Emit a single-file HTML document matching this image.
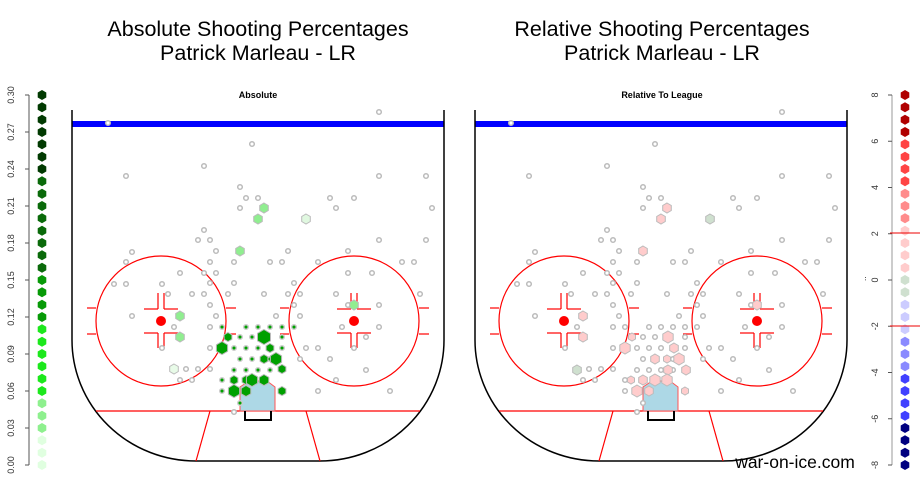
<!DOCTYPE html>
<html><head><meta charset="utf-8"><style>
body{margin:0;background:#fff;width:920px;height:480px;overflow:hidden;font-family:"Liberation Sans",sans-serif}
</style></head><body>
<svg id="s" width="920" height="480" xmlns="http://www.w3.org/2000/svg" font-family="Liberation Sans, sans-serif">
<rect width="920" height="480" fill="#fff"/>
<text x="258" y="36" font-size="21.5" text-anchor="middle">Absolute Shooting Percentages</text>
<text x="258" y="60" font-size="21.5" text-anchor="middle">Patrick Marleau - LR</text>
<text x="662" y="36" font-size="21.5" text-anchor="middle">Relative Shooting Percentages</text>
<text x="662" y="60" font-size="21.5" text-anchor="middle">Patrick Marleau - LR</text>
<text x="258" y="98" font-size="9" font-weight="bold" text-anchor="middle">Absolute</text>
<text x="662" y="98" font-size="9" font-weight="bold" text-anchor="middle">Relative To League</text>
<text x="795" y="468" font-size="17.5" text-anchor="middle">war-on-ice.com</text>
<text x="866" y="281" font-size="8" transform="rotate(-90 866 281)">..</text>
<g id="g"></g>
</svg>
<script>
var NS="http://www.w3.org/2000/svg",g=document.getElementById("g");
function el(t,a){var e=document.createElementNS(NS,t);for(var k in a)e.setAttribute(k,a[k]);g.appendChild(e);return e;}
function hex(x,y,r,f,s){var p=[];for(var i=0;i<6;i++){var a=Math.PI/3*i-Math.PI/2;p.push((x+r*Math.cos(a)).toFixed(1)+","+(y+r*Math.sin(a)).toFixed(1));}
el("polygon",{points:p.join(" "),fill:f,stroke:s||"none","stroke-width":1});}
function rink(o){
el("rect",{x:72+o,y:121,width:372,height:6,fill:"#0000ff"});
el("path",{d:"M"+(72+o)+",110 L"+(72+o)+",340 A124,121 0 0 0 "+(196+o)+",461 L"+(320+o)+",461 A124,121 0 0 0 "+(444+o)+",340 L"+(444+o)+",110",fill:"none",stroke:"#000","stroke-width":1.5});
el("line",{x1:96+o,y1:411,x2:420+o,y2:411,stroke:"#f00","stroke-width":1.2});
el("line",{x1:210+o,y1:411,x2:196+o,y2:461,stroke:"#f00","stroke-width":1.2});
el("line",{x1:306+o,y1:411,x2:320+o,y2:461,stroke:"#f00","stroke-width":1.2});
[161,354].forEach(function(c){c+=o;
el("circle",{cx:c,cy:321,r:65,fill:"none",stroke:"#f00","stroke-width":1.2});
var L=function(a,b,c2,d){el("line",{x1:a,y1:b,x2:c2,y2:d,stroke:"#f00","stroke-width":1.2});};
L(c-74,308,c-65,308);L(c-74,334,c-65,334);L(c+65,308,c+75,308);L(c+65,334,c+75,334);
L(c-3,293,c-3,309);L(c+3,293,c+3,309);L(c-3,333,c-3,348);L(c+3,333,c+3,348);
L(c-17,309,c-3,309);L(c+3,309,c+17,309);L(c-17,333,c-3,333);L(c+3,333,c+17,333);
el("circle",{cx:c,cy:321,r:5,fill:"#f00"});});
el("polygon",{points:(240+o)+",411 "+(240+o)+",387 "+(249+o)+",381 "+(267+o)+",381 "+(275+o)+",387 "+(275+o)+",411",fill:"#add8e6",stroke:"#f55","stroke-width":1});
el("path",{d:"M"+(245+o)+",411 L"+(245+o)+",420 L"+(271+o)+",420 L"+(271+o)+",411",fill:"none",stroke:"#000","stroke-width":2});
}
rink(0);rink(403);
var gray=[[379,112],[252,144],[204,166],[379,176],[426,176],[432,208],[240,187],[246,198],[258,198],[330,198],[354,198],[240,208],[336,208],[204,230],[210,240],[379,240],[426,240],[216,251],[288,251],[348,251],[234,262],[270,262],[282,262],[318,262],[402,262],[414,262],[348,273],[372,273],[210,283],[234,283],[294,283],[264,294],[288,294],[300,294],[336,294],[420,294],[210,305],[379,305],[276,316],[300,316],[342,327],[379,327],[366,337],[354,348],[306,348],[318,348],[300,359],[366,370],[336,380],[318,391],[390,391],[234,412],
[108,123],[126,176],[132,252],[126,262],[114,284],[126,284],[162,284],[180,273],[168,294],[192,294],[204,294],[228,294],[132,316],[216,316],[174,327],[210,327],[162,348],[210,348],[186,369],[198,369],[210,369],[180,380],[192,380],[210,262],[198,240],[204,273],[216,273],[294,305],[330,359],[348,305]];
var gsm=[[222,327],[246,327],[258,327],[270,327],[282,327],[294,327],[240,337],[252,337],[282,348],[234,348],[246,348],[258,348],[240,359],[252,359],[234,370],[246,370],[258,370],[270,370],[222,380],[222,391],[240,403],[270,359],[282,337]];
gray.forEach(function(p){el("circle",{cx:p[0],cy:p[1],r:2.3,fill:"#fff",stroke:"#bbb","stroke-width":1.5});
el("circle",{cx:p[0]+403,cy:p[1],r:2.3,fill:"#fff",stroke:"#bbb","stroke-width":1.5});});
gsm.forEach(function(p){el("circle",{cx:p[0],cy:p[1],r:2.3,fill:"#00a000",stroke:"#ccc","stroke-width":1.5});
el("circle",{cx:p[0]+403,cy:p[1],r:2.3,fill:"#fff",stroke:"#bbb","stroke-width":1.5});});
var dg=[[264,337,7],[222,348,6],[228,337,4],[270,348,4],[276,359,6],[264,359,4],[282,369,4],[234,380,4],[246,380,4],[252,380,6],[264,380,5],[234,391,6],[246,391,5],[282,391,4]];
dg.forEach(function(h){hex(h[0],h[1],h[2]+0.5,"#00a000","#bbb");});
[[264,208,"#90ee90"],[258,219,"#90ee90"],[306,219,"#e0f8e0"],[240,251,"#90ee90"],[180,316,"#90ee90"],[180,337,"#90ee90"],[174,369,"#e8fbe8"],[354,305,"#90ee90"]].forEach(function(h){hex(h[0],h[1],5,h[2],"#bbb");});
[[667,208,5],[661,219,5],[643,251,5],[583,316,5],[583,337,5],[632,337,4],[668,337,6],[625,348,6],[674,348,5],[655,359,5],[667,359,4],[679,359,6],[668,370,5],[686,370,5],[631,380,4],[643,380,5],[655,380,6],[667,380,6],[685,391,4],[637,391,6],[649,391,5],[757,305,5]].forEach(function(h){hex(h[0],h[1],h[2],"#ffcccc","#bbb");});
hex(710,219,5,"#cfe0cf","#bbb");hex(577,370,5,"#cfe0cf","#bbb");
el("line",{x1:29,y1:95,x2:29,y2:465,stroke:"#555","stroke-width":1});
for(var i=0;i<=10;i++){var y=465-i*37;el("line",{x1:25,y1:y,x2:29,y2:y,stroke:"#555"});
var t=el("text",{x:14,y:y,"font-size":9,"text-anchor":"middle",fill:"#333",transform:"rotate(-90 14 "+y+")"});t.textContent=(i*0.03).toFixed(2);}
var lc=[];function add(n,c){for(var k=0;k<n;k++)lc.push(c);}
add(7,"#013a01");add(8,"#0a6a0a");add(4,"#079a07");add(6,"#1ce81c");add(3,"#8ef08e");add(3,"#e0ffe0");
lc.forEach(function(c,k){hex(42,95+k*370/30,5,c);});
el("line",{x1:892,y1:95,x2:892,y2:465,stroke:"#999","stroke-width":1});
for(var i=0;i<=8;i++){var y=465-i*370/8;el("line",{x1:888,y1:y,x2:892,y2:y,stroke:"#555"});
var t=el("text",{x:878,y:y,"font-size":9,"text-anchor":"middle",fill:"#333",transform:"rotate(-90 878 "+y+")"});t.textContent=(-8+2*i);}
var rc=[];function ad(n,c){for(var k=0;k<n;k++)rc.push(c);}
ad(4,"#b00000");ad(4,"#ff4444");ad(3,"#ff8c8c");ad(4,"#ffcccc");ad(2,"#cfe0cf");ad(3,"#ccccff");ad(3,"#8a8aff");ad(4,"#4040ff");ad(4,"#000080");
rc.forEach(function(c,k){hex(905,95+k*370/30,5,c);});
el("line",{x1:890,y1:233,x2:920,y2:233,stroke:"#e00","stroke-width":1});
el("line",{x1:890,y1:326,x2:920,y2:326,stroke:"#e00","stroke-width":1});
</script>
</body></html>
